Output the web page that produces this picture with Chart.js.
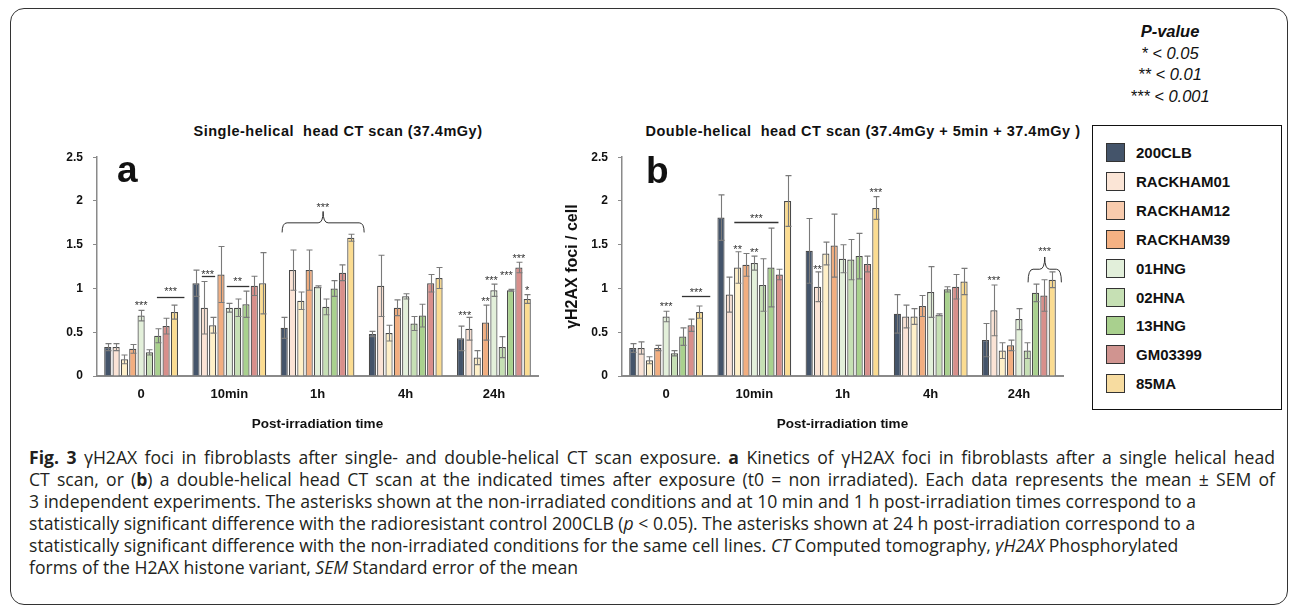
<!DOCTYPE html>
<html>
<head>
<meta charset="utf-8">
<script src="https://cdn.jsdelivr.net/npm/chart.js@4.4.1/dist/chart.umd.min.js"></script>
<style>
  html, body { margin: 0; padding: 0; background: #fff; }
  #page { position: relative; width: 1292px; height: 607px; overflow: hidden; font-family: 'Liberation Sans', Arial, sans-serif; color: #111; }
  .frame { position: absolute; left: 10px; top: 8px; width: 1278px; height: 597px; border: 1.5px solid #333; border-radius: 14px; box-sizing: border-box; }
  canvas { position: absolute; }
  .title { position: absolute; top: 123px; font-weight: bold; font-size: 14.5px; letter-spacing: 0.5px; white-space: nowrap; transform: translateX(-50%); }
  .letter { position: absolute; font-weight: bold; font-size: 37px; line-height: 36px; }
  .pvalue { position: absolute; left: 1070px; top: 21px; width: 200px; text-align: center; font-style: italic; font-size: 16.5px; line-height: 21.7px; }
  .legend { position: absolute; left: 1092px; top: 125px; width: 190px; height: 285px; border: 1.2px solid #111; box-sizing: border-box; }
  .legend .item { position: absolute; left: 13px; height: 19px; font-weight: bold; font-size: 15px; line-height: 19px; white-space: nowrap; }
  .legend .swatch { display: inline-block; width: 17px; height: 17px; border: 1px solid #333; vertical-align: top; margin-right: 11px; }
  .caption { position: absolute; left: 29px; top: 446px; font-family: 'Open Sans', sans-serif; font-size: 17.6px; line-height: 22px; color: #231f20; }
  .caption div { white-space: nowrap; }
  .caption .just { width: 1246px; text-align: justify; text-align-last: justify; }
</style>
</head>
<body>
<div id="page">
  <div class="frame"></div>

  <div class="pvalue">
    <b>P-value</b><br>* &lt; 0.05<br>** &lt; 0.01<br>*** &lt; 0.001
  </div>

  <div class="title" style="left:338px">Single-helical&nbsp; head CT scan (37.4mGy)</div>
  <div class="title" style="left:863px">Double-helical&nbsp; head CT scan (37.4mGy + 5min + 37.4mGy )</div>

  <canvas id="chart-single" width="520" height="300" style="left:30px; top:140px"></canvas>
  <canvas id="chart-double" width="520" height="300" style="left:555px; top:140px"></canvas>

  <div class="letter" style="left:117px; top:152px">a</div>
  <div class="letter" style="left:646px; top:153px">b</div>

  <div class="legend" id="legend"></div>

  <div class="caption">
    <div class="just"><b>Fig. 3</b> γH2AX foci in fibroblasts after single- and double-helical CT scan exposure. <b>a</b> Kinetics of γH2AX foci in fibroblasts after a single helical head</div>
    <div class="just">CT scan, or (<b>b</b>) a double-helical head CT scan at the indicated times after exposure (t0 = non irradiated). Each data represents the mean ± SEM of</div>
    <div>3 independent experiments. The asterisks shown at the non-irradiated conditions and at 10 min and 1 h post-irradiation times correspond to a</div>
    <div>statistically significant difference with the radioresistant control 200CLB (<i>p</i> &lt; 0.05). The asterisks shown at 24 h post-irradiation correspond to a</div>
    <div>statistically significant difference with the non-irradiated conditions for the same cell lines. <i>CT</i> Computed tomography, <i>γH2AX</i> Phosphorylated</div>
    <div>forms of the H2AX histone variant, <i>SEM</i> Standard error of the mean</div>
  </div>
</div>

<script>
// ---- data ----
const timePoints = ['0', '10min', '1h', '4h', '24h'];
const cellLines = ['200CLB', 'RACKHAM01', 'RACKHAM12', 'RACKHAM39', '01HNG', '02HNA', '13HNG', 'GM03399', '85MA'];
const yTicks = [0, 0.5, 1, 1.5, 2, 2.5];

// single-helical scan: mean foci per cell line, one row per cell line, one column per time point
const singleMean = [
  [0.33, 1.06, 0.55, 0.48, 0.43],
  [0.33, 0.78, 1.21, 1.03, 0.54],
  [0.19, 0.58, 0.86, 0.49, 0.21],
  [0.31, 1.16, 1.21, 0.78, 0.61],
  [0.69, 0.78, 1.02, 0.91, 0.98],
  [0.27, 0.78, 0.79, 0.60, 0.33],
  [0.46, 0.82, 1.00, 0.69, 0.98],
  [0.57, 1.03, 1.18, 1.06, 1.24],
  [0.73, 1.06, 1.58, 1.12, 0.88]
];
const singleSem = [
  [0.04, 0.15, 0.12, 0.03, 0.14],
  [0.04, 0.30, 0.23, 0.35, 0.13],
  [0.05, 0.09, 0.10, 0.09, 0.08],
  [0.05, 0.32, 0.23, 0.09, 0.20],
  [0.06, 0.05, 0.01, 0.03, 0.07],
  [0.03, 0.10, 0.09, 0.08, 0.12],
  [0.08, 0.15, 0.09, 0.13, 0.01],
  [0.09, 0.11, 0.09, 0.10, 0.06],
  [0.08, 0.35, 0.04, 0.12, 0.05]
];

// double-helical scan
const doubleMean = [
  [0.32, 1.81, 1.43, 0.71, 0.41],
  [0.32, 0.93, 1.02, 0.68, 0.75],
  [0.18, 1.24, 1.40, 0.68, 0.29],
  [0.32, 1.27, 1.49, 0.80, 0.35],
  [0.68, 1.29, 1.34, 0.96, 0.65],
  [0.26, 1.04, 1.33, 0.70, 0.29],
  [0.45, 1.24, 1.37, 0.99, 0.95],
  [0.58, 1.16, 1.28, 1.02, 0.92],
  [0.73, 2.00, 1.92, 1.08, 1.10]
];
const doubleSem = [
  [0.05, 0.26, 0.37, 0.22, 0.19],
  [0.07, 0.20, 0.17, 0.13, 0.29],
  [0.04, 0.18, 0.13, 0.09, 0.09],
  [0.03, 0.13, 0.36, 0.12, 0.06],
  [0.06, 0.08, 0.16, 0.29, 0.12],
  [0.03, 0.30, 0.23, 0.01, 0.09],
  [0.10, 0.45, 0.26, 0.03, 0.10],
  [0.07, 0.06, 0.09, 0.14, 0.18],
  [0.07, 0.29, 0.13, 0.15, 0.09]
];

// significance marks: [time index, bar index, value, text]
const singleStars = [
  [0, 4, 0.83, '***'], [0, 7.55, 0.99, '***'],
  [1, 1.4, 1.19, '***'], [1, 5.0, 1.11, '**'],
  [2, 4.65, 1.95, '***'],
  [4, 0.5, 0.72, '***'], [4, 3, 0.88, '**'], [4, 3.7, 1.12, '***'],
  [4, 5.5, 1.18, '***'], [4, 7, 1.37, '***'], [4, 8, 1.00, '*']
];
// comparison lines: [time index, from bar, to bar, value]
const singleLines = [[0, 5.9, 9.2, 0.90], [1, 0.7, 2.3, 1.14], [1, 3.7, 6.4, 1.03]];
// braces: [time index, from bar, to bar, tip value, arm value, peak value]
const singleBraces = [[2, -0.25, 9.6, 1.64, 1.75, 1.88]];

const doubleStars = [
  [0, 4, 0.82, '***'], [0, 7.6, 0.98, '***'],
  [1, 2, 1.47, '**'], [1, 4, 1.44, '**'], [1, 4.25, 1.83, '***'],
  [2, 1, 1.25, '**'], [2, 8, 2.12, '***'],
  [4, 1, 1.12, '***'], [4, 7.1, 1.45, '***']
];
const doubleLines = [[0, 5.9, 9.3, 0.91], [1, 1.6, 6.9, 1.76]];
const doubleBraces = [[4, 5.1, 9.1, 1.07, 1.22, 1.36]];

// ---- styles ----
const barColors = ['#44546a', '#fbe3d5', '#fff0c8', '#f2ae80', '#e3f0da', '#c6e0b4', '#a9d18e', '#d88f8b', '#fbdc91'];
const legendColors = ['#44546a', '#fbe5d6', '#f8cbad', '#f4b183', '#e2efda', '#c6e0b4', '#a9d08e', '#d09490', '#f7dca0'];
const FONT = "'Liberation Sans', Arial, sans-serif";

/**
 * Error bars (mean ± SEM) drawn from the y scale
 */
const errorBars = {
  id: 'errorBars',
  afterDatasetsDraw(chart) {
    const { ctx, scales: { y } } = chart;
    ctx.save();
    ctx.strokeStyle = '#7a7a7a';
    ctx.lineWidth = 1.1;
    chart.data.datasets.forEach((ds, i) => {
      chart.getDatasetMeta(i).data.forEach((bar, j) => {
        const hi = y.getPixelForValue(ds.data[j] + ds.sem[j]);
        const lo = y.getPixelForValue(ds.data[j] - ds.sem[j]);
        const x = Math.round(bar.x) + 0.5;
        ctx.beginPath();
        ctx.moveTo(x, lo); ctx.lineTo(x, hi);
        ctx.moveTo(x - 3, hi); ctx.lineTo(x + 3, hi);
        ctx.moveTo(x - 3, lo); ctx.lineTo(x + 3, lo);
        ctx.stroke();
      });
    });
    ctx.restore();
  }
};

/**
 * Asterisks, comparison lines and braces
 */
const significance = {
  id: 'significance',
  afterDraw(chart, args, opts) {
    const { ctx, scales: { y } } = chart;
    const first = chart.getDatasetMeta(0).data;
    const second = chart.getDatasetMeta(1).data;
    const barX = (g, b) => first[g].x + b * (second[g].x - first[g].x);

    ctx.save();
    ctx.strokeStyle = '#333';
    ctx.fillStyle = '#333';
    ctx.lineWidth = 1.3;

    opts.lines.forEach(([g, b1, b2, v]) => {
      const py = Math.round(y.getPixelForValue(v)) + 0.5;
      ctx.beginPath();
      ctx.moveTo(barX(g, b1), py);
      ctx.lineTo(barX(g, b2), py);
      ctx.stroke();
    });

    ctx.lineWidth = 1;
    opts.braces.forEach(([g, b1, b2, vTip, vArm, vPeak]) => {
      const x1 = barX(g, b1), x2 = barX(g, b2), xc = (x1 + x2) / 2;
      const yt = y.getPixelForValue(vTip), ya = y.getPixelForValue(vArm), yp = y.getPixelForValue(vPeak);
      const r = 5;
      ctx.beginPath();
      ctx.moveTo(x1, yt);
      ctx.quadraticCurveTo(x1, ya, x1 + r, ya);
      ctx.lineTo(xc - r, ya);
      ctx.quadraticCurveTo(xc, ya, xc, yp);
      ctx.moveTo(x2, yt);
      ctx.quadraticCurveTo(x2, ya, x2 - r, ya);
      ctx.lineTo(xc + r, ya);
      ctx.quadraticCurveTo(xc, ya, xc, yp);
      ctx.stroke();
    });

    ctx.font = `11px ${FONT}`;
    ctx.textAlign = 'center';
    ctx.textBaseline = 'alphabetic';
    opts.stars.forEach(([g, b, v, text]) => {
      ctx.fillText(text, barX(g, b), y.getPixelForValue(v) + 6);
    });
    ctx.restore();
  }
};

/**
 * Build one grouped bar panel
 */
function makePanel(canvasId, means, sems, marks, yTitle) {
  const ctx = document.getElementById(canvasId).getContext('2d');
  const tickFont = { family: FONT, size: 12, weight: 'bold' };

  return new Chart(ctx, {
    type: 'bar',
    data: {
      labels: timePoints,
      datasets: cellLines.map((name, i) => ({
        label: name,
        data: means[i],
        sem: sems[i],
        backgroundColor: barColors[i],
        borderColor: '#4a4a4a',
        borderWidth: 1.2,
        categoryPercentage: 0.85,
        barPercentage: 0.86
      }))
    },
    options: {
      responsive: false,
      animation: false,
      layout: { padding: { top: 13, right: 12, left: 0, bottom: 0 } },
      plugins: {
        legend: { display: false },
        tooltip: { enabled: false },
        significance: marks
      },
      scales: {
        x: {
          grid: { display: false, drawTicks: false },
          border: { display: true, color: '#8a8a8a', width: 2 },
          ticks: { font: { family: FONT, size: 13, weight: 'bold' }, color: '#111', padding: 11 },
          title: {
            display: true,
            text: 'Post-irradiation time',
            font: { family: FONT, size: 13.5, weight: 'bold' },
            color: '#111',
            padding: { top: 0, bottom: 8 }
          },
          afterFit: (scale) => { scale.height = 64; }
        },
        y: {
          min: 0,
          max: 2.5,
          afterBuildTicks: (scale) => { scale.ticks = yTicks.map(v => ({ value: v })); },
          grid: { drawOnChartArea: false, drawTicks: true, tickLength: 4, color: '#8a8a8a' },
          border: { display: true, color: '#8a8a8a', width: 1.5 },
          ticks: { font: tickFont, color: '#111', padding: 10, callback: (v) => String(v) },
          title: {
            display: !!yTitle,
            text: yTitle || '',
            font: { family: FONT, size: 16, weight: 'bold' },
            color: '#111',
            padding: { top: 8, bottom: 0 }
          },
          afterFit: (scale) => { scale.width = 67; }
        }
      }
    },
    plugins: [errorBars, significance]
  });
}

makePanel('chart-single', singleMean, singleSem,
  { stars: singleStars, lines: singleLines, braces: singleBraces }, null);
makePanel('chart-double', doubleMean, doubleSem,
  { stars: doubleStars, lines: doubleLines, braces: doubleBraces }, 'γH2AX foci / cell');

// legend box
const legend = document.getElementById('legend');
cellLines.forEach((name, i) => {
  const item = document.createElement('div');
  item.className = 'item';
  item.style.top = (17 + i * 28.9) + 'px';
  item.innerHTML = `<span class="swatch" style="background:${legendColors[i]}"></span>${name}`;
  legend.appendChild(item);
});
</script>
</body>
</html>
